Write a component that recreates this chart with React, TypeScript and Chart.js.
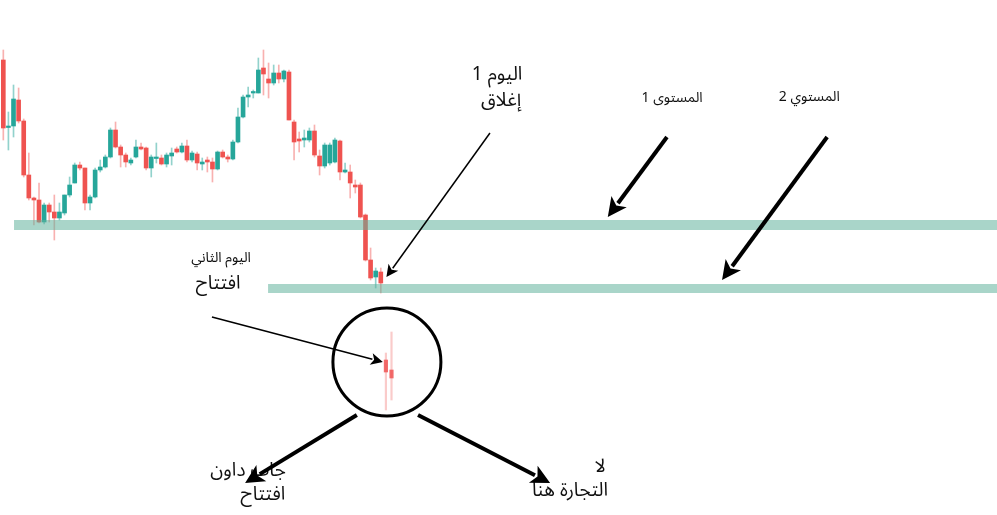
import React, { useEffect, useRef } from "react";
import { Chart, registerables } from "chart.js";
Chart.register(...registerables);

// Candle data (price units)
const candleIndex = Array.from({ length: 75 }, (_, i) => i);
const opens = [455,387.5,389,415,394,340,317,315,293,310,303,297,302,320,332,350,347,312,318,345,348,358,385,368,360,352,358,368,367,347,356.5,357,351,359,366,363,369,355,361,351,355,353,346,363,358,356,373,398,418,422,422,447,436,432,442,436,443,393,376,375,375,384,359,349,352,353,374,343,343,330,330,300,255,238,243];
const closes = [387,389,416,394,340,317,315,293,310,303,297,303,320,330,350,347,312,318,345,348,358,385,368,360,353,355,368,366,347,358,357,351,360,362,363,369,355,362,352,353,353,346,363,358,356,373,398,418,420,423,445,441,432,442,436,444,395,373,374,377,384,360,349,370,370,375,343,345,332,328,298,255,237,244,232];
const highs = [465,403,430,427,396,362,318,332,312,312,320,312,320,338,352,353,347,320,347,355,360,387,393,370,362,357,375,372,368,360,372,360,362,367,368,372,375,364,363,357,358,357,364,365,360,375,407,420,428,425,457,465,452,450,450,445,445,395,383,385,387,390,365,372,372,377,375,352,350,335,332,301,267,247,247];
const lows = [375,365,378,392,338,315,290,292,291,293,275,295,300,318,332,345,305,305,317,343,347,357,367,348,348,350,357,365,345,338,352,350,348,350,362,362,353,353,345,345,343,333,345,357,353,355,372,397,408,417,422,420,417,430,432,433,395,355,363,368,373,358,340,347,350,352,335,342,317,322,297,254,235,227,222];

// Magnified candles inside the circle
const zoomX = [75.0, 76.1];
const zoomOpens = [155, 145];
const zoomCloses = [143, 137];
const zoomHighs = [162, 183];
const zoomLows = [105, 115];

// Support levels
const levelBands = [
  { from: 2.1, to: 194.8, top: 295, bottom: 285 },
  { from: 51.9, to: 194.8, top: 231, bottom: 222 },
];

const labels = [
  { text: "اليوم 1", x: 96.8, y: 438, size: 19 },
  { text: "إغلاق", x: 97.6, y: 412, size: 19 },
  { text: "المستوى 1", x: 131.1, y: 415, size: 14 },
  { text: "المستوي 2", x: 158.0, y: 416, size: 14 },
  { text: "اليوم الثاني", x: 42.7, y: 255, size: 14 },
  { text: "افتتاح", x: 42.1, y: 229, size: 19 },
  { text: "جاب داون", x: 48.0, y: 42, size: 19 },
  { text: "افتتاح", x: 50.9, y: 18, size: 19 },
  { text: "لا", x: 117.0, y: 46, size: 19 },
  { text: "التجارة هنا", x: 111.1, y: 22, size: 19 },
];

const arrows = [
  { x1: 95.4, y1: 382, x2: 75.1, y2: 238, w: 1.5, head: 12 },
  { x1: 130.1, y1: 378, x2: 118.5, y2: 298, w: 4, head: 19 },
  { x1: 161.5, y1: 378, x2: 140.9, y2: 235, w: 4, head: 19 },
  { x1: 40.9, y1: 198, x2: 74.4, y2: 153, w: 1.5, head: 12 },
  { x1: 69.3, y1: 100, x2: 47.4, y2: 32, w: 4, head: 19 },
  { x1: 81.3, y1: 100, x2: 107.2, y2: 32, w: 4, head: 19 },
];

const focusCircle = { x: 75.2, y: 153, radiusPx: 54 };

const GREEN = "#26a69a";
const RED = "#ef5350";
const GREEN_WICK = "rgba(38,166,154,0.5)";
const RED_WICK = "rgba(239,83,80,0.45)";
const FONT = '"Noto Sans Arabic", "DejaVu Sans", sans-serif';

function drawArrow(ctx: CanvasRenderingContext2D, x1: number, y1: number, x2: number, y2: number, w: number, head: number) {
  const ang = Math.atan2(y2 - y1, x2 - x1);
  const bx = x2 - Math.cos(ang) * head * 0.9;
  const by = y2 - Math.sin(ang) * head * 0.9;
  ctx.save();
  ctx.strokeStyle = "#000";
  ctx.fillStyle = "#000";
  ctx.lineWidth = w;
  ctx.lineCap = "butt";
  ctx.beginPath();
  ctx.moveTo(x1, y1);
  ctx.lineTo(bx, by);
  ctx.stroke();
  const hw = head * 0.5;
  ctx.beginPath();
  ctx.moveTo(x2, y2);
  ctx.lineTo(x2 - Math.cos(ang) * head + Math.cos(ang + Math.PI / 2) * hw, y2 - Math.sin(ang) * head + Math.sin(ang + Math.PI / 2) * hw);
  ctx.lineTo(x2 - Math.cos(ang) * head * 0.75, y2 - Math.sin(ang) * head * 0.75);
  ctx.lineTo(x2 - Math.cos(ang) * head - Math.cos(ang + Math.PI / 2) * hw, y2 - Math.sin(ang) * head - Math.sin(ang + Math.PI / 2) * hw);
  ctx.closePath();
  ctx.fill();
  ctx.restore();
}

const overlayPlugin = {
  id: "overlay",
  afterDatasetsDraw(chart: any) {
    const ctx: CanvasRenderingContext2D = chart.ctx;
    const xs = chart.scales.x;
    const ys = chart.scales.y;
    ctx.save();
    ctx.fillStyle = "rgba(99,179,157,0.55)";
    levelBands.forEach((b) => {
      const l = xs.getPixelForValue(b.from);
      const r = xs.getPixelForValue(b.to);
      const t = ys.getPixelForValue(b.top);
      const bt = ys.getPixelForValue(b.bottom);
      ctx.fillRect(l, t, r - l, bt - t);
    });
    ctx.strokeStyle = "#000";
    ctx.lineWidth = 3;
    ctx.beginPath();
    ctx.arc(xs.getPixelForValue(focusCircle.x), ys.getPixelForValue(focusCircle.y), focusCircle.radiusPx, 0, Math.PI * 2);
    ctx.stroke();
    ctx.fillStyle = "#111";
    ctx.textAlign = "center";
    ctx.textBaseline = "middle";
    labels.forEach((lb) => {
      ctx.font = `${lb.size}px ${FONT}`;
      ctx.fillText(lb.text, xs.getPixelForValue(lb.x), ys.getPixelForValue(lb.y));
    });
    arrows.forEach((a) => {
      drawArrow(ctx, xs.getPixelForValue(a.x1), ys.getPixelForValue(a.y1), xs.getPixelForValue(a.x2), ys.getPixelForValue(a.y2), a.w, a.head);
    });
    ctx.restore();
  },
};

export default function App() {
  const ref = useRef<HTMLCanvasElement | null>(null);
  useEffect(() => {
    document.body.style.margin = "0";
    const isUp = candleIndex.map((i) => (closes[i] < opens[i] ? false : true));
    const chart = new Chart(ref.current as HTMLCanvasElement, {
      type: "bar",
      data: {
        datasets: [
          {
            label: "bodies",
            data: candleIndex.map((i) => ({ x: i, y: [opens[i], closes[i]] })) as any,
            backgroundColor: isUp.map((u) => (u ? GREEN : RED)),
            barThickness: 4,
            minBarLength: 1.5,
            order: 1,
          },
          {
            label: "wicks",
            data: candleIndex.map((i) => ({ x: i, y: [lows[i], highs[i]] })) as any,
            backgroundColor: isUp.map((u) => (u ? GREEN_WICK : RED_WICK)),
            barThickness: 1,
            order: 2,
          },
          {
            label: "zoomBodies",
            data: zoomX.map((x, i) => ({ x, y: [zoomOpens[i], zoomCloses[i]] })) as any,
            backgroundColor: "rgba(240,85,85,0.85)",
            barThickness: 3.5,
            order: 1,
          },
          {
            label: "zoomWicks",
            data: zoomX.map((x, i) => ({ x, y: [zoomLows[i], zoomHighs[i]] })) as any,
            backgroundColor: "rgba(239,83,80,0.3)",
            barThickness: 1.5,
            order: 2,
          },
        ],
      },
      options: {
        animation: false,
        responsive: false,
        maintainAspectRatio: false,
        layout: { padding: 0 },
        datasets: { bar: { grouped: false, borderWidth: 0 } } as any,
        plugins: { legend: { display: false }, tooltip: { enabled: false } },
        scales: {
          x: { type: "linear", min: -0.65, max: 194.8, display: false, offset: false, grid: { display: false } },
          y: { type: "linear", min: 0, max: 515, display: false, grid: { display: false } },
        },
      },
      plugins: [overlayPlugin],
    });
    return () => chart.destroy();
  }, []);
  return (
    <div style={{ width: 997, height: 515, background: "#fff" }}>
      <canvas ref={ref} width={997} height={515} />
    </div>
  );
}
